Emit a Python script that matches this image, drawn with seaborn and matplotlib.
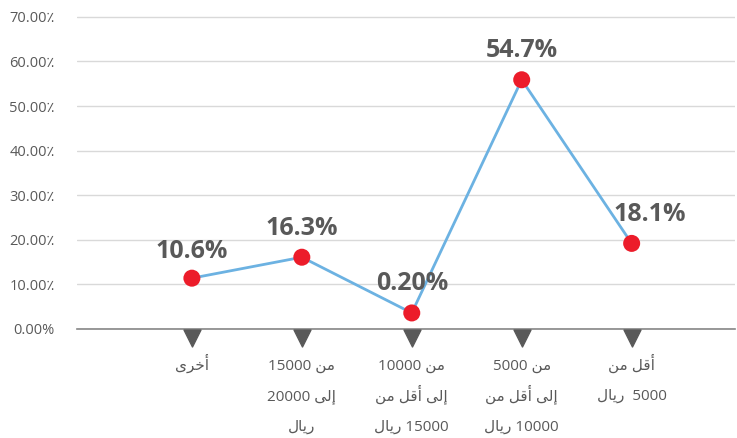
import matplotlib
matplotlib.use("Agg")
import matplotlib.pyplot as plt
import matplotlib.transforms as mtransforms
import seaborn as sns

# categories (logical Arabic text, one string per line of the tick label)
categories = [
    ["أخرى"],
    ["من 15000", "إلى 20000", "ريال"],
    ["من 10000", "إلى أقل من", "15000 ريال"],
    ["من 5000", "إلى أقل من", "10000 ريال"],
    ["أقل من", "5000  ريال"],
]
# plotted heights (percent)
values = [11.4, 16.1, 3.6, 55.9, 19.2]
# data label text as printed on the chart
value_labels = ["10.6%", "16.3%", "0.20%", "54.7%", "18.1%"]
y_ticks = [0, 10, 20, 30, 40, 50, 60, 70]
y_tick_labels = ["0.00%", "10.00٪", "20.00٪", "30.00٪", "40.00٪",
                 "50.00٪", "60.00٪", "70.00٪"]

# matplotlib has no Arabic shaping, so pick contextual forms by hand
FORMS = {
    "أ": ("\uFE83", "\uFE84", None, None),
    "إ": ("\uFE87", "\uFE88", None, None),
    "ا": ("\uFE8D", "\uFE8E", None, None),
    "ر": ("\uFEAD", "\uFEAE", None, None),
    "خ": ("\uFEA5", "\uFEA6", "\uFEA7", "\uFEA8"),
    "ق": ("\uFED5", "\uFED6", "\uFED7", "\uFED8"),
    "ل": ("\uFEDD", "\uFEDE", "\uFEDF", "\uFEE0"),
    "م": ("\uFEE1", "\uFEE2", "\uFEE3", "\uFEE4"),
    "ن": ("\uFEE5", "\uFEE6", "\uFEE7", "\uFEE8"),
    "ى": ("\uFEEF", "\uFEF0", "\uFBE8", "\uFBE9"),
    "ي": ("\uFEF1", "\uFEF2", "\uFEF3", "\uFEF4"),
}


def shape_word(w):
    out = []
    for i, c in enumerate(w):
        f = FORMS.get(c)
        if f is None:
            out.append(c)
            continue
        prev = w[i - 1] if i > 0 else None
        nxt = w[i + 1] if i + 1 < len(w) else None
        jp = prev in FORMS and FORMS[prev][2] is not None
        jn = nxt in FORMS and f[2] is not None
        idx = 3 if (jp and jn) else 1 if jp else 2 if jn else 0
        out.append(f[idx])
    return "".join(reversed(out))


def visual(line):
    toks = line.split(" ")
    toks = [shape_word(t) if any(ch in FORMS for ch in t) else t for t in toks]
    return " ".join(reversed(toks))


sns.set_style("white")
plt.rcParams["font.family"] = ["Open Sans", "DejaVu Sans"]

fig = plt.figure(figsize=(7.37, 4.38), dpi=100)
ax = fig.add_axes([77 / 737, 1 - 329 / 438, (735 - 77) / 737, (329 - 16) / 438])

xs = list(range(len(values)))
sns.lineplot(x=xs, y=values, color="#6cb2e2", linewidth=2, ax=ax, zorder=3)
sns.scatterplot(x=xs, y=values, color="#ec1c2a", s=150, edgecolor="none",
                ax=ax, zorder=4)

# data labels
for i, (v, t) in enumerate(zip(values, value_labels)):
    dx = 13 if i == len(values) - 1 else 0
    dy = 19 if i == 0 else 21
    ax.annotate(t, (i, v), xytext=(dx, dy), textcoords="offset points",
                ha="center", va="center", fontsize=18, fontweight="bold",
                color="#595959")

# triangle markers under the axis
tri = mtransforms.offset_copy(ax.transData, fig=fig, y=-9, units="dots")
ax.scatter(xs, [0] * len(xs), marker="v", s=150, color="#595959",
           transform=tri, clip_on=False, zorder=5)

# category labels, one text per line on a common baseline grid
for i, lines in enumerate(categories):
    for k, line in enumerate(lines):
        ax.annotate(visual(line), (i, 0), xytext=(0, -29 - 22 * k),
                    textcoords="offset points", ha="center", va="baseline",
                    fontsize=11, color="#595959", annotation_clip=False)

ax.set_xlim(-1.045, 4.94)
ax.set_ylim(0, 70.2)
ax.set_yticks(y_ticks, y_tick_labels)
ax.set_xticks(xs, [""] * len(xs))
ax.tick_params(axis="y", length=0, pad=16, labelsize=10.5, labelcolor="#595959")
ax.tick_params(axis="x", length=0)

ax.yaxis.grid(True, color="#d9d9d9", linewidth=1)
ax.xaxis.grid(False)
for s in ["left", "right", "top"]:
    ax.spines[s].set_visible(False)
ax.spines["bottom"].set_color("#868686")
ax.spines["bottom"].set_linewidth(1.2)
ax.set_xlabel("")
ax.set_ylabel("")

fig.savefig("out.png", dpi=100)
